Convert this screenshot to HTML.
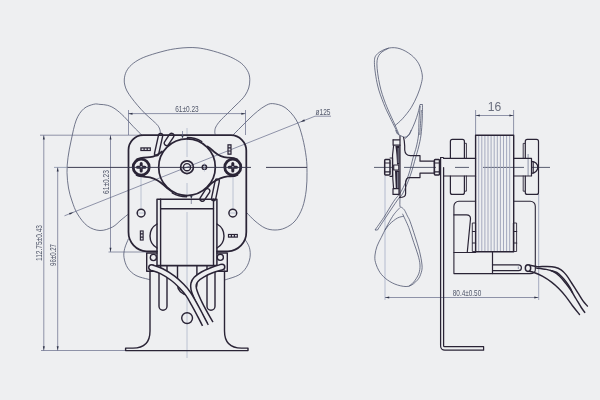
<!DOCTYPE html>
<html><head><meta charset="utf-8">
<style>
html,body{margin:0;padding:0;background:#eeeff1;}
body{width:600px;height:400px;overflow:hidden;font-family:"Liberation Sans",sans-serif;}
svg{display:block;will-change:transform;transform:translateZ(0)}
.k{stroke:#2a2436;fill:none;stroke-width:1.75;stroke-linecap:round;stroke-linejoin:round}
.m{stroke:#2a2436;fill:none;stroke-width:1.4;stroke-linecap:round;stroke-linejoin:round}
.t{stroke:#596080;fill:none;stroke-width:0.65}
.b{stroke:#474d68;fill:none;stroke-width:0.75}
.c{stroke:#959db8;fill:none;stroke-width:0.55}
.h{stroke:#9ca1b8;fill:none;stroke-width:0.9}
.a{fill:#2f3348;stroke:none}
#side .m{stroke-width:1.2}
text{font-family:"Liberation Sans",sans-serif;fill:#51576a}
</style></head><body>
<svg width="600" height="400" viewBox="0 0 600 400">
<rect width="600" height="400" fill="#eeeff1"/>

<!-- ================= FRONT VIEW ================= -->
<g id="front">
<!-- fan blades (thin) -->
<g class="b">
<path d="M160.30 133.50 C160.25 132.92 160.42 131.33 160.00 130.00 C159.58 128.67 159.05 127.12 157.80 125.50 C156.55 123.88 154.63 122.30 152.50 120.30 C150.37 118.30 147.50 116.00 145.00 113.50 C142.50 111.00 139.75 107.92 137.50 105.30 C135.25 102.68 133.25 100.18 131.50 97.80 C129.75 95.42 128.12 93.13 127.00 91.00 C125.88 88.87 125.25 87.00 124.80 85.00 C124.35 83.00 124.05 81.25 124.30 79.00 C124.55 76.75 125.10 73.87 126.30 71.50 C127.50 69.13 129.13 66.92 131.50 64.80 C133.87 62.68 137.00 60.55 140.50 58.80 C144.00 57.05 148.00 55.73 152.50 54.30 C157.00 52.87 163.25 51.18 167.50 50.20 C171.75 49.22 174.58 48.83 178.00 48.40 C181.42 47.97 184.67 47.68 188.00 47.60 C191.33 47.52 194.33 47.47 198.00 47.90 C201.67 48.33 205.50 49.05 210.00 50.20 C214.50 51.35 220.75 53.25 225.00 54.80 C229.25 56.35 232.50 57.83 235.50 59.50 C238.50 61.17 240.87 62.67 243.00 64.80 C245.13 66.93 247.17 69.80 248.30 72.30 C249.43 74.80 249.73 77.18 249.80 79.80 C249.87 82.42 249.45 85.47 248.70 88.00 C247.95 90.53 246.58 92.97 245.30 95.00 C244.02 97.03 242.72 98.37 241.00 100.20 C239.28 102.03 237.25 103.78 235.00 106.00 C232.75 108.22 230.00 111.00 227.50 113.50 C225.00 116.00 221.95 118.75 220.00 121.00 C218.05 123.25 216.67 125.25 215.80 127.00 C214.93 128.75 214.90 130.25 214.80 131.50 C214.70 132.75 215.13 134.00 215.20 134.50"/>
<path d="M142.00 135.30 C140.50 133.80 136.00 129.43 133.00 126.30 C130.00 123.17 127.00 119.42 124.00 116.50 C121.00 113.58 117.75 110.67 115.00 108.80 C112.25 106.93 110.00 106.03 107.50 105.30 C105.00 104.57 102.29 104.58 100.00 104.40 C97.71 104.23 96.46 103.53 93.75 104.25 C91.04 104.97 86.67 106.12 83.75 108.75 C80.83 111.38 78.33 114.79 76.25 120.00 C74.17 125.21 72.62 133.75 71.25 140.00 C69.88 146.25 68.71 152.08 68.00 157.50 C67.29 162.92 66.92 167.42 67.00 172.50 C67.08 177.58 67.67 183.25 68.50 188.00 C69.33 192.75 70.50 196.67 72.00 201.00 C73.50 205.33 74.92 209.83 77.50 214.00 C80.08 218.17 83.75 223.25 87.50 226.00 C91.25 228.75 95.83 230.33 100.00 230.50 C104.17 230.67 109.00 228.75 112.50 227.00 C116.00 225.25 118.29 222.21 121.00 220.00 C123.71 217.79 127.46 214.79 128.75 213.75"/>
<path d="M232.00 136.00 C233.50 134.50 238.00 130.00 241.00 127.00 C244.00 124.00 247.25 120.62 250.00 118.00 C252.75 115.38 255.00 113.30 257.50 111.30 C260.00 109.30 262.50 107.28 265.00 106.00 C267.50 104.72 269.17 103.35 272.50 103.60 C275.83 103.85 281.04 104.77 285.00 107.50 C288.96 110.23 293.33 115.00 296.25 120.00 C299.17 125.00 300.83 131.25 302.50 137.50 C304.17 143.75 305.50 151.67 306.25 157.50 C307.00 163.33 307.00 167.08 307.00 172.50 C307.00 177.92 307.00 184.17 306.25 190.00 C305.50 195.83 304.38 202.33 302.50 207.50 C300.62 212.67 297.92 217.58 295.00 221.00 C292.08 224.42 288.33 226.50 285.00 228.00 C281.67 229.50 278.33 230.00 275.00 230.00 C271.67 230.00 268.33 229.50 265.00 228.00 C261.67 226.50 258.00 223.50 255.00 221.00 C252.00 218.50 248.33 214.33 247.00 213.00"/>
<path d="M128.50 238.70 C127.87 240.33 125.45 245.37 124.70 248.50 C123.95 251.63 123.50 254.25 124.00 257.50 C124.50 260.75 125.70 265.00 127.70 268.00 C129.70 271.00 132.62 273.63 136.00 275.50 C139.38 277.37 145.67 278.53 148.00 279.20 C150.33 279.87 149.67 279.45 150.00 279.50"/>
<path d="M245.00 239.40 C245.73 240.75 248.57 244.48 249.40 247.50 C250.23 250.52 250.53 254.17 250.00 257.50 C249.47 260.83 248.12 264.58 246.25 267.50 C244.38 270.42 242.09 273.00 238.75 275.00 C235.41 277.00 228.49 278.72 226.20 279.50 C223.91 280.28 225.20 279.67 225.00 279.70"/>

</g>

<!-- centre lines -->
<g class="c">
<path d="M187 128 V 157 M187 183 V 196 M187 212 V 358"/>
<path d="M141 176 V 209 M233 176 V 209"/>
<path d="M136 213 H 146 M228 213 H 238"/>
</g>

<!-- dimension lines -->
<g class="t">
<path d="M40 135.2 H 142"/>
<path d="M41 350.5 H 125"/>
<path d="M43.8 135.2 V 350.5"/>
<path d="M57.7 167.2 V 350.5"/>
<path d="M110.5 135.2 V 252"/>
<path d="M108.5 252 H 147"/>
<path d="M128.5 110 V 135 M245.5 110 V 135"/>
<path d="M128.5 113.6 H 245.5"/>
<path d="M331 116.2 H 315 L 64.5 215.8"/>
</g>
<g class="a">
<path d="M43.8 135.4 l-1 4 h2z"/>
<path d="M43.8 350.3 l-1 -4 h2z"/>
<path d="M57.7 167.4 l-1 4 h2z"/>
<path d="M57.7 350.3 l-1 -4 h2z"/>
<path d="M110.5 135.4 l-1 4 h2z"/>
<path d="M110.5 251.8 l-1 -4 h2z"/>
<path d="M128.5 113.7 l4 -1 v2z"/>
<path d="M245.3 113.7 l-4 -1 v2z"/>
<path d="M300.4 122 L304.97 121.23 L304.23 119.37z"/>
<path d="M73.6 212.2 L69.77 214.83 L69.03 212.97z"/>
</g>

<!-- plate -->
<path class="k" d="M143 135.2 H 231 A 15.5 15.5 0 0 1 246.3 150.7 V 232 A 19 19 0 0 1 228 251.3 H 217 M157 251.3 H 146.5 A 19 19 0 0 1 128.5 232 V 150 A 14.8 14.8 0 0 1 143 135.2"/>

<!-- big circle + lugs -->
<circle class="k" cx="187" cy="167.2" r="28.3"/>
<path class="k" d="M136.5 159.5 C 140 157.5 146 157.6 150 157.2 C 155 156.6 158.5 154.5 162 151.5"/>
<path class="k" d="M136.5 175 C 140 177 146 176.5 150 177.3 C 156 178.8 160 181.5 163.5 185 C 166.5 188 169 190 171.5 191.3"/>
<path class="k" d="M237.5 159.5 C 234 157.5 230 157.8 227.5 157.7 C 222 157.2 218 155 215 152.5 C 212 150 210 148 207.5 146.5"/>
<path class="k" d="M237.5 175 C 234 177 230 176.4 227.5 176.3 C 222 177 217 179.5 212.5 182.5 C 210 184.5 208 187 206.2 188.7"/>
<!-- ribs on circle -->
<path class="k" style="stroke-width:1.3" d="M187.5 138.9 V 137.5 A 29.7 29.7 0 0 1 201.85 141.5 L 201.2 142.6"/>
<path class="k" style="stroke-width:1.3" d="M172.8 191.8 L 172.15 192.9 A 29.7 29.7 0 0 0 186.5 196.9 V 195.5"/>
<!-- ticks -->
<path class="a" d="M181.3 135.5 h2.4 l-1.2 3z"/>
<path class="a" d="M191.3 199 l-1.2 -3 h2.4z"/>
<path class="t" d="M191.3 199 V 204 M182.5 131 V 136"/>

<!-- screws -->
<g id="screwL">
<circle cx="141.2" cy="167.2" r="8" fill="#eeeff1" stroke="#2a2436" stroke-width="2.8"/>
<path d="M137.5 167.2 H 144.9 M141.2 163.5 V 170.9" stroke="#2a2436" stroke-width="3" stroke-linecap="round" fill="none"/>
<circle cx="141.2" cy="167.2" r="1.1" fill="#c9cad3"/>
</g>
<g id="screwR">
<circle cx="232.8" cy="167.2" r="8" fill="#eeeff1" stroke="#2a2436" stroke-width="2.8"/>
<path d="M229.1 167.2 H 236.5 M232.8 163.5 V 170.9" stroke="#2a2436" stroke-width="3" stroke-linecap="round" fill="none"/>
<circle cx="232.8" cy="167.2" r="1.1" fill="#c9cad3"/>
</g>

<path d="M54 167.4 H 67.5" stroke="#8890a8" stroke-width="0.8" fill="none"/>
<path d="M67.5 167.4 H 251 M266 167.4 H 307" stroke="#34344a" stroke-width="0.95" fill="none"/>
<!-- shaft -->
<circle class="k" cx="187" cy="167.2" r="6.4" style="stroke-width:1.7"/>
<circle class="m" cx="187" cy="167.2" r="3.6"/>
<circle class="m" cx="204.4" cy="167.2" r="2.2"/>
<path class="c" d="M204.4 163 V 171.5"/>

<!-- capsules -->
<path class="m" fill="#eeeff1" d="M158.55 135.14 L154.55 153.14 A2.1 2.1 0 0 0 158.65 154.06 L162.65 136.06 A2.1 2.1 0 0 0 158.55 135.14Z"/>
<path class="m" fill="#eeeff1" d="M169.50 134.37 L164.60 141.77 A2.4 2.4 0 0 0 168.60 144.43 L173.50 137.03 A2.4 2.4 0 0 0 169.50 134.37Z"/>
<path class="m" fill="#eeeff1" d="M215.14 180.77 L211.54 198.17 A2.1 2.1 0 0 0 215.66 199.03 L219.26 181.63 A2.1 2.1 0 0 0 215.14 180.77Z"/>
<path class="m" fill="#eeeff1" d="M205.48 189.70 L200.38 197.60 A2.4 2.4 0 0 0 204.42 200.20 L209.52 192.30 A2.4 2.4 0 0 0 205.48 189.70Z"/>


<!-- marks -->
<g>
<rect x="140.3" y="147.3" width="10.6" height="3.8" fill="#2a2436"/>
<path d="M141.6 148.4 h1.9 v1.6 h-1.9z M144.7 148.4 h1.9 v1.6 h-1.9z M147.8 148.4 h1.9 v1.6 h-1.9z" fill="#dcdde3"/>
<rect x="227.4" y="144.2" width="4.2" height="10.6" fill="#2a2436"/>
<path d="M228.6 145.4 h1.8 v1.9 h-1.8z M228.6 148.5 h1.8 v1.9 h-1.8z M228.6 151.6 h1.8 v1.9 h-1.8z" fill="#dcdde3"/>
<rect x="139.8" y="230.4" width="3.9" height="10.2" fill="#2a2436"/>
<path d="M140.9 231.5 h1.7 v1.8 h-1.7z M140.9 234.6 h1.7 v1.8 h-1.7z M140.9 237.7 h1.7 v1.8 h-1.7z" fill="#dcdde3"/>
<rect x="227.9" y="233.9" width="10" height="3.8" fill="#2a2436"/>
<path d="M229 235 h1.8 v1.6 h-1.8z M232 235 h1.8 v1.6 h-1.8z M235 235 h1.8 v1.6 h-1.8z" fill="#dcdde3"/>
</g>

<!-- small holes -->
<circle class="m" cx="141.1" cy="213.1" r="3.9"/>
<circle class="m" cx="232.8" cy="213.1" r="3.9"/>

<!-- coil -->
<path class="k" d="M157 265.6 V 199.3 H 216.9 V 265.6" style="stroke-width:1.5"/>
<path class="m" d="M160.6 265.6 V 208.7 H 213.5 V 265.6"/>
<path class="m" d="M160.6 199.3 V 208.7 M213.5 199.3 V 208.7"/>
<path class="k" d="M157 265.6 H 217"/>
<path class="m" d="M157 224 A 13.8 13.8 0 0 0 157 248"/>
<path class="m" d="M217 224 A 13.8 13.8 0 0 1 217 248"/>

<!-- terminal blocks -->
<path class="m" d="M157 253 H 146.7 V 271.3 H 160.6 V 265.6"/>
<path class="m" d="M217 253 H 227.3 V 271.3 H 213.5 V 265.6"/>
<circle class="m" cx="153.4" cy="257.5" r="3.1"/>
<circle class="m" cx="220.3" cy="257.3" r="3.1"/>

<!-- bracket -->
<path class="k" style="stroke-width:1.4" d="M150 271.3 V 331 C 150 342 144 348.1 133 348.1 H 125.6 V 350.6 H 248 V 348.1 H 241.5 C 230.5 348.1 224.5 342 224.5 331 V 271.3"/>
<path class="m" d="M159 271 V 306.3 A 4 4 0 0 0 167 306.3 V 265.6"/>
<path class="m" d="M207 265.6 V 306.3 A 4 4 0 0 0 215 306.3 V 271"/>
<path class="m" d="M177.5 265.6 V 285 A 9.7 9.7 0 0 0 196.9 285 V 265.6"/>
<circle class="m" cx="187.1" cy="318.1" r="5.4"/>

<!-- wires -->
<g>
<circle cx="222" cy="267" r="3.5" fill="#2a2436"/>
<path d="M222.00 267.00 C220.40 267.50 215.61 268.77 212.40 270.00 C209.19 271.23 205.45 272.86 202.75 274.40 C200.05 275.94 197.72 277.65 196.20 279.25 C194.67 280.85 194.02 282.38 193.60 284.00 C193.18 285.62 193.34 287.17 193.70 289.00 C194.06 290.83 194.68 292.40 195.75 295.00 C196.82 297.60 198.35 301.10 200.10 304.60 C201.85 308.10 204.50 312.85 206.25 316.00 C208.00 319.15 209.88 322.25 210.60 323.50" stroke="#2a2436" stroke-width="7.0" fill="none" stroke-linecap="butt"/>
<circle cx="222" cy="267" r="2.0" fill="#eeeff1"/>
<path d="M222.00 267.00 C220.40 267.50 215.61 268.77 212.40 270.00 C209.19 271.23 205.45 272.86 202.75 274.40 C200.05 275.94 197.72 277.65 196.20 279.25 C194.67 280.85 194.02 282.38 193.60 284.00 C193.18 285.62 193.34 287.17 193.70 289.00 C194.06 290.83 194.68 292.40 195.75 295.00 C196.82 297.60 198.35 301.10 200.10 304.60 C201.85 308.10 204.37 312.63 206.25 316.00 C208.13 319.37 210.50 323.33 211.35 324.80" stroke="#eeeff1" stroke-width="4.0" fill="none" stroke-linecap="butt"/>
<circle cx="151.5" cy="267.6" r="3.5" fill="#2a2436"/>
<path d="M151.50 267.60 C153.18 268.20 158.02 269.42 161.60 271.20 C165.18 272.98 169.64 275.79 173.00 278.30 C176.36 280.81 179.20 283.62 181.75 286.25 C184.30 288.88 186.26 291.18 188.30 294.10 C190.34 297.02 192.03 300.25 194.00 303.75 C195.97 307.25 198.27 311.62 200.10 315.10 C201.93 318.58 204.18 323.02 205.00 324.60" stroke="#2a2436" stroke-width="7.0" fill="none" stroke-linecap="butt"/>
<circle cx="151.5" cy="267.6" r="2.0" fill="#eeeff1"/>
<path d="M151.50 267.60 C153.18 268.20 158.02 269.42 161.60 271.20 C165.18 272.98 169.64 275.79 173.00 278.30 C176.36 280.81 179.20 283.62 181.75 286.25 C184.30 288.88 186.26 291.18 188.30 294.10 C190.34 297.02 192.03 300.25 194.00 303.75 C195.97 307.25 198.15 311.40 200.10 315.10 C202.05 318.80 204.76 324.13 205.69 325.93" stroke="#eeeff1" stroke-width="4.0" fill="none" stroke-linecap="butt"/>
</g>
</g>

<!-- texts front -->
<text x="187" y="112" font-size="8.6" text-anchor="middle" textLength="23.5" lengthAdjust="spacingAndGlyphs">61±0.23</text>
<text transform="translate(109.3 182) rotate(-90)" font-size="8.6" text-anchor="middle" textLength="24" lengthAdjust="spacingAndGlyphs">61±0.23</text>
<text transform="translate(42.3 243) rotate(-90)" font-size="8.6" text-anchor="middle" textLength="36" lengthAdjust="spacingAndGlyphs">112.75±0.43</text>
<text transform="translate(56 255) rotate(-90)" font-size="8.6" text-anchor="middle" textLength="22" lengthAdjust="spacingAndGlyphs">96±0.27</text>
<text x="323" y="115" font-size="8.4" text-anchor="middle" textLength="15" lengthAdjust="spacingAndGlyphs">ø125</text>

<!-- ================= SIDE VIEW ================= -->
<g id="side">
<!-- centre / ext lines -->
<path class="c" d="M385 175.5 V 300" style="stroke:#8e99b8;stroke-width:0.6"/>
<path d="M374 167.4 H 393 M404 167.4 H 436 M455 167.4 H 469 M483 167.4 H 524 M531 167.4 H 550" stroke="#3f4459" stroke-width="0.85" fill="none"/>
<path class="t" d="M385 297.5 H 538.5"/>
<path class="t" d="M538.7 194 V 300" style="stroke:#7a85a5"/>
<path class="t" d="M528.1 154 V 176"/>
<path class="t" d="M475.6 110 V 135 M513.6 110 V 135 M475.6 115.5 H 513.6"/>
<path class="a" d="M475.8 115.5 l4 -1 v2z M513.4 115.5 l-4 -1 v2z M538.3 297.5 l-4 -1 v2z M385.2 297.5 l4 -1 v2z"/>
<text x="494.5" y="111.3" font-size="13" text-anchor="middle" textLength="13.5" lengthAdjust="spacingAndGlyphs" style="fill:#6a6f7e">16</text>
<text x="467" y="296" font-size="8.6" text-anchor="middle" textLength="28.5" lengthAdjust="spacingAndGlyphs">80.4±0.50</text>

<!-- fan blades side (thin) -->
<g class="b">
<path d="M399.40 135.00 C399.08 134.58 399.07 135.42 397.50 132.50 C395.93 129.58 392.29 122.29 390.00 117.50 C387.71 112.71 385.83 109.17 383.75 103.75 C381.67 98.33 379.06 91.88 377.50 85.00 C375.94 78.12 374.40 67.71 374.40 62.50 C374.40 57.29 375.11 56.15 377.50 53.75 C379.89 51.35 385.00 48.93 388.75 48.10 C392.50 47.27 396.25 47.60 400.00 48.75 C403.75 49.90 408.12 52.50 411.25 55.00 C414.38 57.50 416.92 60.42 418.75 63.75 C420.58 67.08 421.83 71.67 422.25 75.00 C422.67 78.33 422.04 80.42 421.25 83.75 C420.46 87.08 419.17 91.04 417.50 95.00 C415.83 98.96 413.75 103.54 411.25 107.50 C408.75 111.46 405.21 115.73 402.50 118.75 C399.79 121.77 396.25 124.46 395.00 125.60"/>
<path d="M398.75 133.75 C398.12 132.29 397.19 130.00 395.00 125.00 C392.81 120.00 388.14 110.42 385.60 103.75 C383.06 97.08 381.20 91.67 379.75 85.00 C378.30 78.33 376.86 68.96 376.90 63.75 C376.94 58.54 378.02 56.36 380.00 53.75 C381.98 51.14 387.29 49.04 388.75 48.10"/>
<path d="M420.00 104.50 C419.67 105.92 418.83 110.08 418.00 113.00 C417.17 115.92 416.08 119.17 415.00 122.00 C413.92 124.83 412.50 127.83 411.50 130.00 C410.50 132.17 410.08 133.55 409.00 135.00 C407.92 136.45 405.67 138.08 405.00 138.70"/>
<path d="M420.20 106.00 C420.00 108.33 419.28 115.17 419.00 120.00 C418.72 124.83 418.95 130.50 418.50 135.00 C418.05 139.50 417.22 143.17 416.30 147.00 C415.38 150.83 414.30 153.33 413.00 158.00 C411.70 162.67 410.46 169.46 408.50 175.00 C406.54 180.54 403.71 186.88 401.25 191.25 C398.79 195.62 396.67 196.88 393.75 201.25 C390.83 205.62 386.88 212.71 383.75 217.50 C380.62 222.29 376.46 227.92 375.00 230.00"/>
<path d="M422.50 104.50 C422.45 107.08 422.45 114.92 422.20 120.00 C421.95 125.08 421.60 130.50 421.00 135.00 C420.40 139.50 419.52 143.17 418.60 147.00 C417.68 150.83 416.85 153.33 415.50 158.00 C414.15 162.67 412.58 169.17 410.50 175.00 C408.42 180.83 405.17 188.83 403.00 193.00 C400.83 197.17 400.33 196.00 397.50 200.00 C394.67 204.00 389.33 212.00 386.00 217.00 C382.67 222.00 378.92 227.83 377.50 230.00"/>
<path d="M421.30 110.00 C421.18 112.00 420.85 117.83 420.60 122.00 C420.35 126.17 419.93 132.83 419.80 135.00"/>
<path d="M395.60 130.00 C395.92 130.67 396.67 133.07 397.50 134.00 C398.33 134.93 399.60 135.10 400.60 135.60 C401.60 136.10 402.57 136.78 403.50 137.00 C404.43 137.22 405.23 137.40 406.20 136.90 C407.17 136.40 408.47 135.15 409.30 134.00 C410.13 132.85 410.88 130.67 411.20 130.00"/>
<path d="M400.00 198.00 C400.00 199.38 399.67 204.70 400.00 206.30 C400.33 207.90 401.23 206.93 402.00 207.60 C402.77 208.27 403.68 208.87 404.60 210.30 C405.52 211.73 406.60 214.38 407.50 216.20 C408.40 218.02 408.75 217.91 410.00 221.25 C411.25 224.59 413.42 231.25 415.00 236.25 C416.58 241.25 418.33 246.46 419.50 251.25 C420.67 256.04 421.71 261.46 422.00 265.00 C422.29 268.54 422.00 270.00 421.25 272.50 C420.50 275.00 419.58 277.71 417.50 280.00 C415.42 282.29 412.08 285.42 408.75 286.25 C405.42 287.08 401.04 286.04 397.50 285.00 C393.96 283.96 390.42 282.08 387.50 280.00 C384.58 277.92 382.00 275.42 380.00 272.50 C378.00 269.58 376.33 265.42 375.50 262.50 C374.67 259.58 374.75 257.71 375.00 255.00 C375.25 252.29 375.96 249.17 377.00 246.25 C378.04 243.33 379.71 240.62 381.25 237.50 C382.79 234.38 384.38 231.00 386.25 227.50 C388.12 224.00 390.79 219.20 392.50 216.50 C394.21 213.80 395.25 212.78 396.50 211.30 C397.75 209.82 399.42 208.22 400.00 207.60"/>
<path d="M402.50 213.75 C403.54 216.04 406.88 222.71 408.75 227.50 C410.62 232.29 412.21 237.92 413.75 242.50 C415.29 247.08 416.96 251.25 418.00 255.00 C419.04 258.75 419.88 261.88 420.00 265.00 C420.12 268.12 419.79 270.92 418.75 273.75 C417.71 276.58 415.42 279.92 413.75 282.00 C412.08 284.08 409.58 285.54 408.75 286.25"/>
<path d="M403.75 216.25 C402.71 216.54 399.79 216.75 397.50 218.00 C395.21 219.25 392.08 221.75 390.00 223.75 C387.92 225.75 385.83 228.96 385.00 230.00"/>
<path d="M420 104.5 L 422.5 104.5 M375 230 L 377.5 230"/>

</g>

<!-- hub -->
<g>
<path class="m" d="M403.6 137.3 C 404.3 140 404.6 143 404.7 146 V 150 C 405 153.5 406.8 155.6 410.3 155.6 H 420 V 161.2 H 434.4 V 173.1 H 420 V 177.6 H 409 C 406.5 177.6 405.6 180 405.6 183.7 V 193.7 C 405.6 196 403.5 197.5 399.4 197.5"/>
<path class="m" d="M393.1 139.8 H 399.6"/>
<path class="m" d="M393.1 139.8 V 145.2 H 400"/>
<path class="m" d="M393 188.7 H 399 V 194.4 H 393 Z"/>
<path class="m" d="M400 136 V 197.5"/>
<!-- disc band -->
<path d="M393.6 145.5 C 392.5 152 392.3 160 392.6 165 M392.6 170 C 392.6 176 393 183 393.6 188.7" class="m"/>
<path d="M395.4 146 L 399.6 146 L 399.6 164.5 L 397 164.5 C 396.8 158 396.3 152 395.4 146 Z" fill="#2a2436"/>
<path d="M395 170.5 H 399.6 V 188.5 H 395.8 C 395.5 182 395.2 176 395 170.5 Z" fill="#2a2436"/>
<path d="M397.8 172 V 188" stroke="#b9bdcc" stroke-width="0.8"/>
<path d="M398.2 148 V 163" stroke="#b9bdcc" stroke-width="0.6"/>
<rect class="m" x="393.7" y="165" width="5.1" height="5" fill="#eeeff1"/>
<!-- nut left -->
<path class="m" d="M385.5 159.4 H 389 C 389.7 159.4 390 159.8 390 160.5 V 174 C 390 174.6 389.7 175 389 175 H 385.5 C 384.9 175 384.7 174.6 384.7 174 V 160.5 C 384.7 159.8 384.9 159.4 385.5 159.4 Z" style="stroke-width:1.5"/>
<path class="m" d="M384.7 163 H 390 M384.7 171.8 H 390"/>
<path class="m" d="M390 158 H 392.5 V 176.3 H 390"/>
<!-- nut right -->
<path class="m" d="M435.2 159.4 H 438.6 C 439.2 159.4 439.5 159.8 439.5 160.5 V 174 C 439.5 174.6 439.2 175 438.6 175 H 435.2 C 434.6 175 434.4 174.6 434.4 174 V 160.5 C 434.4 159.8 434.6 159.4 435.2 159.4 Z" style="stroke-width:1.5"/>
<path class="m" d="M434.4 163 H 439.5 M434.4 171.8 H 439.5"/>
</g>

<!-- bracket -->
<path class="k" d="M440.6 157.5 V 346 A 4.2 4.2 0 0 0 444.8 350.2 H 483.6 V 346.7 H 444.6 A 1 1 0 0 1 443.6 345.7 V 167.5" style="stroke-width:1.25"/>
<path class="k" d="M443.6 158.4 V 157.5 H 440.6" style="stroke-width:1"/>

<!-- stack -->
<g class="h">
<path d="M478.7 136 V 251 M481.8 136 V 251 M484.9 136 V 251 M488 136 V 251 M491.1 136 V 251 M494.2 136 V 251 M497.3 136 V 251 M500.4 136 V 251 M503.5 136 V 251 M506.6 136 V 251 M509.7 136 V 251"/>
</g>
<path class="k" d="M475.6 135.2 H 513.7 V 251.8 H 475.6 Z" style="stroke-width:1.4"/>

<!-- sleeves -->
<path class="m" d="M475.6 158.4 H 443.6 M443.6 176 H 475.6"/>
<path class="m" d="M513.7 158.4 H 531.5 V 176 H 513.7"/>
<path class="m" d="M531.5 161.3 A 6.3 6 0 0 1 531.5 173.3"/>
<path class="m" d="M533.2 161.8 V 172.8"/>
<!-- bearings -->
<path class="m" d="M450.4 158.4 V 141.4 A 2 2 0 0 1 452.4 139.4 H 462.4 A 2 2 0 0 1 464.4 141.4 V 158.4"/>
<path class="m" d="M465 143.3 H 466.4 V 158.4" style="stroke-width:0.9"/>
<path class="m" d="M450.4 176 V 192.4 A 2 2 0 0 0 452.4 194.4 H 462.4 A 2 2 0 0 0 464.4 192.4 V 176"/>
<path class="m" d="M465 191.2 H 466.4 V 176" style="stroke-width:0.9"/>
<path class="m" d="M525.3 158.4 V 141.4 A 2 2 0 0 1 527.3 139.4 H 536.5 A 2 2 0 0 1 538.5 141.4 V 192.4 A 2 2 0 0 1 536.5 194.4 H 527.3 A 2 2 0 0 1 525.3 192.4 V 176"/>
<path class="m" d="M524.7 143.4 H 523.2 V 158.4 M523.2 176 V 191.2 H 524.7" style="stroke-width:0.9"/>

<!-- coil housing -->
<path class="m" d="M475.6 201.2 H 459 A 5 5 0 0 0 453.9 206.2 V 273.6 H 530 C 533.5 273.6 535.3 272.5 535.3 270 V 206.2 A 5 5 0 0 0 530.3 201.2 H 513.7" style="stroke-width:1.1"/>
<path class="m" d="M453.9 214.8 H 466.5 C 469 214.8 470.5 216.3 470.5 218.7 L 467.3 252"/>
<path class="m" d="M453.9 252.5 H 475.6 M492.5 252 V 273.6"/>
<path class="m" d="M492.5 264.8 H 518.5 A 2.9 2.9 0 0 1 518.5 270.6 H 492.5"/>
<path class="t" d="M518.3 266.5 V 269"/>
<rect class="m" x="472.7" y="223" width="2.9" height="28.5" fill="#a9adc2" style="stroke-width:0.9"/>
<rect class="m" x="513.7" y="223" width="2.9" height="28.5" fill="#a9adc2" style="stroke-width:0.9"/>
<path class="m" d="M472.6 231.5 h3 M472.6 243 h3 M513.7 231.5 h3 M513.7 243 h3" style="stroke-width:1.2"/>

<!-- wires side -->
<g class="m" style="stroke-width:1.45">
<path d="M529.60 265.20 C530.92 265.43 534.73 266.38 537.50 266.60 C540.27 266.82 543.33 266.39 546.25 266.50 C549.17 266.61 552.52 266.68 555.00 267.25 C557.48 267.82 559.20 268.59 561.10 269.90 C563.00 271.21 564.65 272.92 566.40 275.10 C568.15 277.28 569.71 280.08 571.60 283.00 C573.49 285.92 575.85 289.62 577.75 292.60 C579.65 295.58 581.39 298.65 583.00 300.90 C584.61 303.15 586.67 305.23 587.40 306.10"/>
<path d="M535.50 267.90 C537.29 268.15 543.29 268.78 546.25 269.40 C549.21 270.02 551.06 270.50 553.25 271.60 C555.44 272.70 557.36 274.10 559.40 276.00 C561.44 277.90 563.61 280.67 565.50 283.00 C567.39 285.33 569.00 287.38 570.75 290.00 C572.50 292.62 574.25 295.83 576.00 298.75 C577.75 301.67 579.79 305.23 581.25 307.50 C582.71 309.77 584.17 311.58 584.75 312.40"/>
<path d="M550.60 270.40 C551.62 270.75 554.85 271.42 556.75 272.50 C558.65 273.58 560.39 275.30 562.00 276.90 C563.61 278.50 565.08 280.35 566.40 282.10 C567.72 283.85 568.88 285.65 569.90 287.40 C570.92 289.15 572.07 291.73 572.50 292.60"/>
<path d="M527.90 271.10 C528.92 271.33 531.52 271.62 534.00 272.50 C536.48 273.38 539.83 274.80 542.75 276.40 C545.67 278.00 548.88 280.12 551.50 282.10 C554.12 284.08 556.17 285.92 558.50 288.25 C560.83 290.58 563.17 293.18 565.50 296.10 C567.83 299.02 570.17 302.68 572.50 305.75 C574.83 308.82 578.33 313.04 579.50 314.50"/>
<ellipse cx="528" cy="268.1" rx="2.7" ry="3.3" fill="#eeeff1"/>
</g>
</g>
</svg>
</body></html>
